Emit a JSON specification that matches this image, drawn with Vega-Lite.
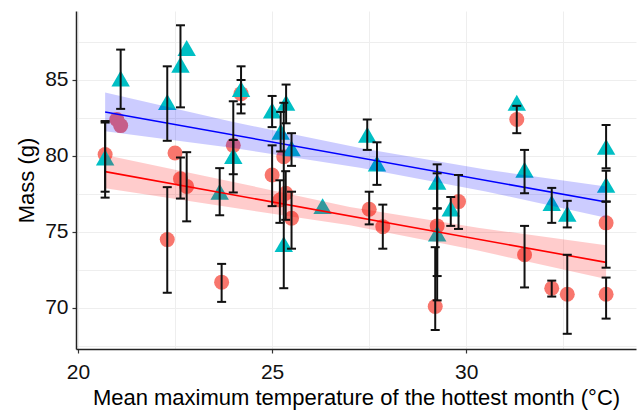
{
  "$schema": "https://vega.github.io/schema/vega-lite/v6.json",
  "width": 560,
  "height": 338,
  "autosize": {"type": "none"},
  "padding": {"left": 76, "top": 11, "right": 1, "bottom": 61},
  "background": "white",
  "config": {
    "view": {"stroke": null},
    "font": "Liberation Sans",
    "axis": {
      "grid": true,
      "gridColor": "#EEEEEE",
      "gridWidth": 1,
      "domainColor": "#222222",
      "domainWidth": 1.5,
      "tickColor": "#333333",
      "tickSize": 4,
      "tickWidth": 1.2,
      "labelFontSize": 21,
      "labelColor": "#111111",
      "labelFont": "Liberation Sans",
      "titleFont": "Liberation Sans",
      "titleFontSize": 22,
      "titleFontWeight": "normal",
      "titleColor": "#000000",
      "tickOpacity": {"condition": {"test": "datum.value % 5 === 0", "value": 1}, "value": 0},
      "labelExpr": "datum.value % 5 === 0 ? datum.label : ''"
    }
  },
  "datasets": {
    "pts": [
      {"group": "A", "x": 20.7, "y": 80.1, "lo": 77.26, "hi": 82.2},
      {"group": "A", "x": 21.0, "y": 82.4, "lo": null, "hi": null},
      {"group": "A", "x": 21.1, "y": 82.0, "lo": null, "hi": null},
      {"group": "A", "x": 22.5, "y": 80.2, "lo": null, "hi": null},
      {"group": "A", "x": 22.64, "y": 78.5, "lo": 77.2, "hi": 79.9},
      {"group": "A", "x": 22.8, "y": 78.0, "lo": 75.7, "hi": 80.25},
      {"group": "A", "x": 22.3, "y": 74.5, "lo": 71.0, "hi": 77.95},
      {"group": "A", "x": 23.7, "y": 71.7, "lo": 70.4, "hi": 72.9},
      {"group": "A", "x": 24.0, "y": 80.7, "lo": 77.6, "hi": 81.05},
      {"group": "A", "x": 24.2, "y": 84.1, "lo": 83.4, "hi": 85.0},
      {"group": "A", "x": 25.0, "y": 78.75, "lo": 76.7, "hi": 80.7},
      {"group": "A", "x": 25.2, "y": 77.1, "lo": 75.6, "hi": 78.4},
      {"group": "A", "x": 25.3, "y": 79.95, "lo": null, "hi": null},
      {"group": "A", "x": 25.35, "y": 77.55, "lo": 75.8, "hi": 79.0},
      {"group": "A", "x": 25.5, "y": 75.9, "lo": 73.9, "hi": 77.65},
      {"group": "A", "x": 27.5, "y": 76.5, "lo": 75.5, "hi": 77.65},
      {"group": "A", "x": 27.85, "y": 75.35, "lo": 73.9, "hi": 76.8},
      {"group": "A", "x": 29.25, "y": 75.4, "lo": 72.1, "hi": 78.86},
      {"group": "A", "x": 29.2, "y": 70.1, "lo": 68.55, "hi": 74.0},
      {"group": "A", "x": 29.8, "y": 77.0, "lo": 75.2, "hi": 78.75},
      {"group": "A", "x": 31.3, "y": 82.4, "lo": 81.5, "hi": 83.3},
      {"group": "A", "x": 31.5, "y": 73.5, "lo": 71.35, "hi": 75.4},
      {"group": "A", "x": 32.2, "y": 71.3, "lo": 70.75, "hi": 71.8},
      {"group": "A", "x": 32.6, "y": 70.9, "lo": 68.3, "hi": 73.5},
      {"group": "A", "x": 33.6, "y": 75.6, "lo": 72.65, "hi": 77.0},
      {"group": "A", "x": 33.6, "y": 70.9, "lo": 69.3, "hi": 72.0},
      {"group": "B", "x": 20.7, "y": 79.9, "lo": 77.65, "hi": 82.3},
      {"group": "B", "x": 21.1, "y": 85.1, "lo": 83.1, "hi": 87.0},
      {"group": "B", "x": 22.3, "y": 83.55, "lo": 81.0, "hi": 85.9},
      {"group": "B", "x": 22.64, "y": 86.0, "lo": 83.2, "hi": 88.6},
      {"group": "B", "x": 22.8, "y": 87.1, "lo": null, "hi": null},
      {"group": "B", "x": 23.65, "y": 77.65, "lo": 76.1, "hi": 79.2},
      {"group": "B", "x": 24.0, "y": 80.0, "lo": 78.8, "hi": 83.6},
      {"group": "B", "x": 24.2, "y": 84.4, "lo": 82.8, "hi": 85.9},
      {"group": "B", "x": 25.0, "y": 83.0, "lo": 81.9, "hi": 83.95},
      {"group": "B", "x": 25.36, "y": 83.5, "lo": 82.15, "hi": 84.7},
      {"group": "B", "x": 25.22, "y": 81.6, "lo": 80.3, "hi": 82.9},
      {"group": "B", "x": 25.5, "y": 80.5, "lo": 79.35, "hi": 81.5},
      {"group": "B", "x": 25.3, "y": 74.2, "lo": 71.3, "hi": 83.5},
      {"group": "B", "x": 26.3, "y": 76.7, "lo": null, "hi": null},
      {"group": "B", "x": 27.45, "y": 81.4, "lo": 80.4, "hi": 82.4},
      {"group": "B", "x": 27.7, "y": 79.5, "lo": 78.1, "hi": 80.9},
      {"group": "B", "x": 29.25, "y": 78.3, "lo": 76.55, "hi": 79.45},
      {"group": "B", "x": 29.25, "y": 74.9, "lo": 70.5, "hi": 76.55},
      {"group": "B", "x": 29.6, "y": 76.55, "lo": 75.4, "hi": 77.3},
      {"group": "B", "x": 31.3, "y": 83.5, "lo": null, "hi": null},
      {"group": "B", "x": 31.5, "y": 79.1, "lo": 77.55, "hi": 80.4},
      {"group": "B", "x": 32.2, "y": 76.9, "lo": 75.6, "hi": 77.9},
      {"group": "B", "x": 32.6, "y": 76.2, "lo": 75.3, "hi": 77.05},
      {"group": "B", "x": 33.6, "y": 80.6, "lo": 79.19, "hi": 82.04},
      {"group": "B", "x": 33.6, "y": 78.1, "lo": 77.0, "hi": 79.03}
    ],
    "band": [
      {"group": "A", "x": 20.7, "lo": 77.88, "hi": 80.07},
      {"group": "A", "x": 24.0, "lo": 76.59, "hi": 78.29},
      {"group": "A", "x": 27.0, "lo": 75.45, "hi": 76.65},
      {"group": "A", "x": 30.3, "lo": 73.78, "hi": 75.28},
      {"group": "A", "x": 33.6, "lo": 71.9, "hi": 74.12},
      {"group": "B", "x": 20.7, "lo": 81.62, "hi": 84.18},
      {"group": "B", "x": 24.0, "lo": 80.53, "hi": 82.23},
      {"group": "B", "x": 27.3, "lo": 79.21, "hi": 80.51},
      {"group": "B", "x": 30.5, "lo": 77.67, "hi": 79.11},
      {"group": "B", "x": 33.6, "lo": 75.94, "hi": 78.0}
    ],
    "fit": [
      {"group": "A", "x": 20.7, "y": 78.97},
      {"group": "A", "x": 33.6, "y": 73.0},
      {"group": "B", "x": 20.7, "y": 82.9},
      {"group": "B", "x": 33.6, "y": 76.97}
    ]
  },
  "layer": [
    {
      "data": {"name": "pts"},
      "transform": [{"filter": "datum.group === 'A'"}],
      "mark": {"type": "point", "shape": "circle", "filled": true, "size": 225, "color": "#F8766D", "opacity": 1},
      "encoding": {
        "x": {"field": "x", "type": "quantitative", "scale": {"domain": [19.95, 34.37], "nice": false, "zero": false},
              "axis": {"values": [20, 22.5, 25, 27.5, 30, 32.5], "labelPadding": 8, "titlePadding": 5},
              "title": "Mean maximum temperature of the hottest month (°C)"},
        "y": {"field": "y", "type": "quantitative", "scale": {"domain": [67.3, 89.54], "nice": false, "zero": false},
              "axis": {"values": [67.5, 70, 72.5, 75, 77.5, 80, 82.5, 85, 87.5], "labelPadding": 4, "titlePadding": 6},
              "title": "Mass (g)"}
      }
    },
    {
      "data": {"name": "pts"},
      "transform": [{"filter": "datum.group === 'B'"}],
      "mark": {"type": "point", "shape": "triangle-up", "filled": true, "size": 340, "color": "#00BFC4", "opacity": 1},
      "encoding": {
        "x": {"field": "x", "type": "quantitative"},
        "y": {"field": "y", "type": "quantitative"}
      }
    },
    {
      "data": {"name": "band"},
      "transform": [{"filter": "datum.group === 'A'"}],
      "mark": {"type": "area", "color": "#FF0000", "opacity": 0.2},
      "encoding": {
        "x": {"field": "x", "type": "quantitative"},
        "y": {"field": "lo", "type": "quantitative", "title": "Mass (g)"},
        "y2": {"field": "hi"}
      }
    },
    {
      "data": {"name": "band"},
      "transform": [{"filter": "datum.group === 'B'"}],
      "mark": {"type": "area", "color": "#0000FF", "opacity": 0.2},
      "encoding": {
        "x": {"field": "x", "type": "quantitative"},
        "y": {"field": "lo", "type": "quantitative", "title": "Mass (g)"},
        "y2": {"field": "hi"}
      }
    },
    {
      "data": {"name": "fit"},
      "transform": [{"filter": "datum.group === 'A'"}],
      "mark": {"type": "line", "color": "#FF0000", "strokeWidth": 1.6},
      "encoding": {
        "x": {"field": "x", "type": "quantitative"},
        "y": {"field": "y", "type": "quantitative"}
      }
    },
    {
      "data": {"name": "fit"},
      "transform": [{"filter": "datum.group === 'B'"}],
      "mark": {"type": "line", "color": "#0000FF", "strokeWidth": 1.6},
      "encoding": {
        "x": {"field": "x", "type": "quantitative"},
        "y": {"field": "y", "type": "quantitative"}
      }
    },
    {
      "data": {"name": "pts"},
      "transform": [{"filter": "isValid(datum.lo)"}],
      "mark": {"type": "rule", "color": "#111111", "strokeWidth": 2},
      "encoding": {
        "x": {"field": "x", "type": "quantitative"},
        "y": {"field": "lo", "type": "quantitative", "title": "Mass (g)"},
        "y2": {"field": "hi"}
      }
    },
    {
      "data": {"name": "pts"},
      "transform": [{"filter": "isValid(datum.lo)"}],
      "mark": {"type": "tick", "orient": "horizontal", "color": "#111111", "size": 9, "thickness": 2, "opacity": 1},
      "encoding": {
        "x": {"field": "x", "type": "quantitative"},
        "y": {"field": "lo", "type": "quantitative", "title": "Mass (g)"}
      }
    },
    {
      "data": {"name": "pts"},
      "transform": [{"filter": "isValid(datum.hi)"}],
      "mark": {"type": "tick", "orient": "horizontal", "color": "#111111", "size": 9, "thickness": 2, "opacity": 1},
      "encoding": {
        "x": {"field": "x", "type": "quantitative"},
        "y": {"field": "hi", "type": "quantitative", "title": "Mass (g)"}
      }
    }
  ]
}
